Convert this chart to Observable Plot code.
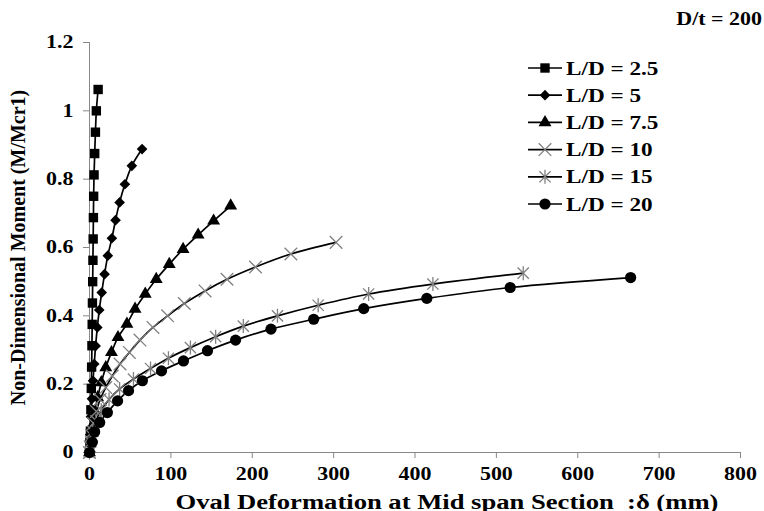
<!DOCTYPE html>
<html>
<head>
<meta charset="utf-8">
<script src="https://cdn.jsdelivr.net/npm/d3@7"></script>
<script src="https://cdn.jsdelivr.net/npm/@observablehq/plot@0.6"></script>
<style>
  html, body { margin: 0; padding: 0; background: #fff; }
  #wrap { position: relative; width: 764px; height: 511px; }
  #wrap svg { position: absolute; left: 0; top: 0; }
</style>
</head>
<body>
<div id="wrap"></div>
<script>
// ---------- data ----------
const seriesNames = ["L/D = 2.5", "L/D = 5", "L/D = 7.5", "L/D = 10", "L/D = 15", "L/D = 20"];

const ld25_x = [0, 0.5, 1.1, 1.7, 2.2, 2.6, 3.0, 3.3, 3.6, 3.9, 4.2, 4.5, 4.8, 5.1, 5.6, 6.4, 7.3, 8.4, 10.6];
const ld25_m = [0, 0.03, 0.0625, 0.125, 0.1875, 0.25, 0.3125, 0.375, 0.4375, 0.5, 0.5625, 0.625, 0.6875, 0.75, 0.8125, 0.875, 0.9375, 1.0, 1.0625];

const ld5_x = [0, 0.8, 1.8, 3.0, 4.3, 5.8, 7.5, 9.6, 12, 15, 18.5, 22.5, 27.5, 32, 37, 43.5, 52, 64.6];
const ld5_m = [0, 0.052, 0.105, 0.157, 0.210, 0.259, 0.312, 0.366, 0.417, 0.468, 0.522, 0.576, 0.627, 0.680, 0.732, 0.785, 0.839, 0.888];

const ld75_x = [0, 1.7, 3.8, 6.5, 10, 14.5, 20, 27, 35, 46, 56, 68.5, 82, 98, 115, 133.5, 152.5, 173.5];
const ld75_m = [0, 0.04, 0.08, 0.12, 0.161, 0.205, 0.249, 0.293, 0.337, 0.376, 0.420, 0.464, 0.507, 0.551, 0.595, 0.637, 0.678, 0.722];

const ld10_x = [0, 0.8, 2.5, 5, 8.5, 13, 20, 28, 37.5, 49, 62, 78, 96, 116.5, 142, 169, 204, 247.5, 303];
const ld10_m = [0, 0.017, 0.05, 0.085, 0.12, 0.155, 0.190, 0.224, 0.259, 0.293, 0.329, 0.366, 0.400, 0.436, 0.473, 0.507, 0.543, 0.581, 0.615];

const ld15_x = [0, 1.5, 4, 8, 14.5, 24, 37, 54, 75, 97, 124, 155, 189, 231, 281, 343, 422, 533];
const ld15_m = [0, 0.031, 0.062, 0.093, 0.124, 0.155, 0.186, 0.215, 0.246, 0.276, 0.307, 0.339, 0.370, 0.400, 0.431, 0.464, 0.493, 0.525];

const ld20_x = [0, 3.5, 6.3, 12.5, 22, 34.5, 48, 65, 88.5, 115.5, 145, 179.5, 223, 275.5, 337, 414.5, 517, 665];
const ld20_m = [0, 0.03, 0.06, 0.088, 0.117, 0.151, 0.181, 0.210, 0.239, 0.268, 0.298, 0.329, 0.361, 0.390, 0.421, 0.451, 0.483, 0.512];

const xTicks = [0, 100, 200, 300, 400, 500, 600, 700, 800];
const yTicks = [0, 0.2, 0.4, 0.6, 0.8, 1, 1.2];
const yTickLabels = ["0", "0.2", "0.4", "0.6", "0.8", "1", "1.2"];

const xTitle = "Oval Deformation at Mid span Section \u00a0:\u03b4 (mm)";
const yTitle = "Non-Dimensional Moment (M/Mcr1)";
const cornerNote = "D/t = 200";

// ---------- styles (not data) ----------
const timesSym = { draw(ctx, size) { const r = Math.sqrt(size / Math.PI); ctx.moveTo(-r, -r); ctx.lineTo(r, r); ctx.moveTo(r, -r); ctx.lineTo(-r, r); } };
const starSym = { draw(ctx, size) { const r = Math.sqrt(size / Math.PI); const a = r * 0.8; ctx.moveTo(-a, -a); ctx.lineTo(a, a); ctx.moveTo(a, -a); ctx.lineTo(-a, a); ctx.moveTo(0, -r); ctx.lineTo(0, r); } };

const styles = [
  { symbol: "square",   r: 5.3, fill: "black", stroke: "none" },
  { symbol: "diamond2", r: 4.8, fill: "black", stroke: "none" },
  { symbol: "triangle", r: 4.8, fill: "black", stroke: "none" },
  { symbol: timesSym,   r: 6.3, fill: "none",  stroke: "#808080" },
  { symbol: starSym,    r: 7.0, fill: "none",  stroke: "#808080" },
  { symbol: "circle",   r: 5.6, fill: "black", stroke: "none" }
];

const xs = [ld25_x, ld5_x, ld75_x, ld10_x, ld15_x, ld20_x];
const ms = [ld25_m, ld5_m, ld75_m, ld10_m, ld15_m, ld20_m];
const tables = seriesNames.map((name, i) => xs[i].map((x, j) => ({ series: name, x, m: ms[i][j] })));
const allRows = tables.flat();

const FONT = "'Liberation Serif', 'Times New Roman', serif";

const marks = [
  Plot.ruleY([0], { stroke: "#888", strokeWidth: 1 }),
  Plot.ruleX([0], { stroke: "#888", strokeWidth: 1 }),
  Plot.axisX({ ticks: xTicks, tickSize: 6, tickPadding: 9, stroke: "#888", fill: "black", label: null, fontSize: 18 }),
  Plot.axisY({ ticks: yTicks, tickFormat: (d) => yTickLabels[yTicks.indexOf(d)], tickSize: 6, tickPadding: 10, stroke: "#888", fill: "black", label: null, fontSize: 18 }),
  Plot.line(allRows, { x: "x", y: "m", z: "series", curve: "catmull-rom", stroke: "black", strokeWidth: 1.7 })
];
tables.forEach((t, i) => {
  const s = styles[i];
  marks.push(Plot.dot(t, { x: "x", y: "m", symbol: () => s.symbol, r: s.r, fill: s.fill, stroke: s.stroke, strokeWidth: 1.3 }));
});
marks.push(Plot.text([xTitle], { text: (d) => d, frameAnchor: "bottom", lineAnchor: "bottom", dy: 56, dx: 32, fontSize: 20, fill: "black", className: "xtitle" }));
marks.push(Plot.text([yTitle], { text: (d) => d, frameAnchor: "left", textAnchor: "middle", lineAnchor: "middle", dx: -71, rotate: -90, fontSize: 20, fill: "black" }));

const chart = Plot.plot({
  width: 764, height: 511,
  marginLeft: 89, marginRight: 24, marginTop: 42, marginBottom: 59,
  x: { domain: [0, 800] },
  y: { domain: [0, 1.2] },
  style: { fontFamily: FONT, fontWeight: "bold", fontSize: "18px", background: "white", color: "black", overflow: "visible" },
  marks
});

const wrap = document.getElementById("wrap");
wrap.appendChild(chart);

// ---------- legend overlay ----------
const ov = d3.select(wrap).append("svg").attr("width", 764).attr("height", 511)
  .style("font-family", FONT).style("font-weight", "bold").style("pointer-events", "none");

const legX0 = 528, legX1 = 562, legY0 = 68, legDY = 27.2;
seriesNames.forEach((name, i) => {
  const s = styles[i];
  const y = legY0 + i * legDY;
  const g = ov.append("g");
  g.append("line").attr("x1", legX0).attr("x2", legX1).attr("y1", y).attr("y2", y).attr("stroke", "black").attr("stroke-width", 1.7);
  const typ = typeof s.symbol === "string" ? {
    square: d3.symbolSquare, diamond2: d3.symbolDiamond2, triangle: d3.symbolTriangle, circle: d3.symbolCircle
  }[s.symbol] : s.symbol;
  g.append("path").attr("transform", `translate(${(legX0 + legX1) / 2},${y})`)
    .attr("d", d3.symbol().type(typ).size(Math.PI * s.r * s.r)())
    .attr("fill", s.fill).attr("stroke", s.stroke).attr("stroke-width", 1.3);
  g.append("text").attr("x", legX1 + 4).attr("y", y).attr("dy", "0.35em").attr("font-size", 19).text(name);
});
ov.append("text").attr("x", 762).attr("y", 19).attr("dy", "0.35em").attr("text-anchor", "end").attr("font-size", 18).text(cornerNote);

// horizontal stretching of text to mimic the reference's wide lettering
wrap.querySelectorAll("text").forEach((t) => {
  const tr = t.getAttribute("transform") || "";
  const ptr = (t.parentNode && t.parentNode.getAttribute && t.parentNode.getAttribute("transform")) || "";
  if (tr.includes("rotate") || ptr.includes("rotate")) return;
  const inTitle = t.closest(".xtitle") !== null;
  const K = inTitle ? 1.33 : 1.22;
  const len = t.getComputedTextLength();
  if (len > 0) {
    t.setAttribute("textLength", (len * K).toFixed(1));
    t.setAttribute("lengthAdjust", "spacingAndGlyphs");
  }
});
</script>
</body>
</html>
